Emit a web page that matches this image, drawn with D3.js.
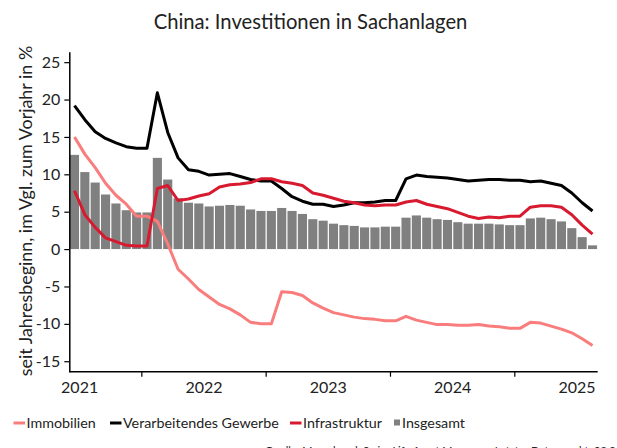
<!DOCTYPE html>
<html><head><meta charset="utf-8">
<script src="https://cdn.jsdelivr.net/npm/d3@7"></script>
<style>
html,body{margin:0;padding:0;background:#fff;}
svg{display:block;}
text{font-family:Lato,"Open Sans",sans-serif;fill:#222;}
</style></head>
<body>
<svg id="chart" width="617" height="448"></svg>
<script>
const months = [
 "2021-06","2021-07","2021-08","2021-09","2021-10","2021-11","2021-12",
 "2022-01","2022-02","2022-03","2022-04","2022-05","2022-06","2022-07","2022-08","2022-09","2022-10","2022-11","2022-12",
 "2023-01","2023-02","2023-03","2023-04","2023-05","2023-06","2023-07","2023-08","2023-09","2023-10","2023-11","2023-12",
 "2024-01","2024-02","2024-03","2024-04","2024-05","2024-06","2024-07","2024-08","2024-09","2024-10","2024-11","2024-12",
 "2025-01","2025-02","2025-03","2025-04","2025-05","2025-06","2025-07","2025-08"];
const insgesamt = [
 12.6,10.3,8.9,7.3,6.1,5.2,4.9,
 4.9,12.2,9.3,6.8,6.2,6.1,5.7,5.8,5.9,5.8,5.3,5.1,
 5.1,5.5,5.1,4.7,4.0,3.8,3.4,3.2,3.1,2.9,2.9,3.0,
 3.0,4.2,4.5,4.2,4.0,3.9,3.6,3.4,3.4,3.4,3.3,3.2,
 3.2,4.1,4.2,4.0,3.7,2.8,1.6,0.5];
const immobilien = [
 15.0,12.7,10.9,8.8,7.2,6.0,4.4,
 4.4,3.7,0.7,-2.7,-4.0,-5.4,-6.4,-7.4,-8.0,-8.8,-9.8,-10.0,
 -10.0,-5.7,-5.8,-6.2,-7.2,-7.9,-8.5,-8.8,-9.1,-9.3,-9.4,-9.6,
 -9.6,-9.0,-9.5,-9.8,-10.1,-10.1,-10.2,-10.2,-10.1,-10.3,-10.4,-10.6,
 -10.6,-9.8,-9.9,-10.3,-10.7,-11.2,-12.0,-12.9];
const verarbeitend = [
 19.2,17.3,15.7,14.8,14.2,13.7,13.5,
 13.5,20.9,15.6,12.2,10.6,10.4,9.9,10.0,10.1,9.7,9.3,9.1,
 9.1,8.1,7.0,6.4,6.0,6.0,5.7,5.9,6.2,6.2,6.3,6.5,
 6.5,9.4,9.9,9.7,9.6,9.5,9.3,9.1,9.2,9.3,9.3,9.2,
 9.2,9.0,9.1,8.8,8.5,7.5,6.2,5.1];
const infrastruktur = [
 7.8,4.6,2.9,1.5,1.0,0.5,0.4,
 0.4,8.1,8.5,6.5,6.7,7.1,7.4,8.3,8.6,8.7,8.9,9.4,
 9.4,9.0,8.8,8.5,7.5,7.2,6.8,6.4,6.2,5.9,5.8,5.9,
 5.9,6.3,6.5,6.0,5.7,5.4,4.9,4.4,4.1,4.3,4.2,4.4,
 4.4,5.6,5.8,5.8,5.6,4.6,3.2,2.0];
const yTicks = [-15,-10,-5,0,5,10,15,20,25];
const yearTicks = ["2022-01","2023-01","2024-01","2025-01"];
const yearLabels = ["2021","2022","2023","2024","2025"];
const yearLabelPos = ["2021-07","2022-07","2023-07","2024-07","2025-07"];
const seriesNames = ["Immobilien","Verarbeitendes Gewerbe","Infrastruktur","Insgesamt"];
const colors = {Immobilien:"#fa7d7d","Verarbeitendes Gewerbe":"#000000",Infrastruktur:"#d71a30",Insgesamt:"#808080"};

(function(){
const svg = d3.select("#chart");
const pL = 69.3, pR = 597.7, pT = 51.7, pB = 371.7;

const fit = (sel, target, base) => {
  sel.attr("font-size", base);
  const w = sel.node().getComputedTextLength();
  if (w > 0) sel.attr("font-size", base * target / w);
  return +sel.attr("font-size");
};

const x = d3.scaleBand().domain(months).range([pL, pR]).paddingInner(0.12).paddingOuter(0.06);
const y = d3.scaleLinear().domain([-16.4, 26.4]).range([pB, pT]);
const boundary = m => x(m) - x.step() * x.paddingInner() / 2;

// bars
svg.append("g").selectAll("rect").data(months).join("rect")
  .attr("x", m => x(m))
  .attr("width", x.bandwidth())
  .attr("y", (m,i) => y(Math.max(0, insgesamt[i])))
  .attr("height", (m,i) => Math.abs(y(insgesamt[i]) - y(0)))
  .attr("fill", colors.Insgesamt);

// lines
const line = d3.line().x((d,i) => x(months[i]) + x.bandwidth()/2).y(d => y(d)).curve(d3.curveLinear);
[["Immobilien", immobilien],["Verarbeitendes Gewerbe", verarbeitend],["Infrastruktur", infrastruktur]].forEach(([n, vals]) => {
  svg.append("path").datum(vals).attr("d", line)
    .attr("fill","none").attr("stroke", colors[n]).attr("stroke-width", 3)
    .attr("stroke-linejoin","round").attr("stroke-linecap","butt");
});

// y axis
const yAxis = svg.append("g").attr("transform", `translate(${pL},0)`)
  .call(d3.axisLeft(y).tickValues(yTicks).tickFormat(d => String(d)).tickSize(5).tickPadding(4).tickSizeOuter(0));
yAxis.select(".domain").attr("stroke","#000").attr("stroke-width",1.5);
yAxis.selectAll(".tick line").attr("stroke","#000").attr("stroke-width",1.2);
yAxis.selectAll(".tick text").attr("font-size",16).attr("font-family",'Lato,sans-serif').attr("fill","#222");

// x axis
const xg = svg.append("g");
xg.append("line").attr("x1", pL).attr("x2", pR).attr("y1", pB).attr("y2", pB)
  .attr("stroke","#000").attr("stroke-width",1.5);
xg.selectAll("line.t").data(yearTicks).join("line").attr("class","t")
  .attr("x1", m => boundary(m)).attr("x2", m => boundary(m))
  .attr("y1", pB).attr("y2", pB + 5).attr("stroke","#000").attr("stroke-width",1.2);
xg.selectAll("text").data(yearLabels).join("text")
  .attr("x", (l,i) => boundary(yearLabelPos[i])).attr("y", 393)
  .attr("text-anchor","middle").attr("font-size",16).text(l => l);

// y label
const yl = svg.append("text").attr("transform", "translate(32,211) rotate(-90)")
  .attr("text-anchor","middle").text("seit Jahresbeginn, im Vgl. zum Vorjahr in %");
fit(yl, 331, 15);

// title
const tt = svg.append("text").attr("x", 310.5).attr("y", 29).attr("text-anchor","middle")
  .text("China: Investitionen in Sachanlagen");
fit(tt, 314, 17);

// legend
const legX = [13.5, 110, 290, 394];
const lg = svg.append("g");
const probe = lg.append("text").text("Verarbeitendes Gewerbe");
const lfs = fit(probe, 156, 15);
probe.remove();
seriesNames.forEach((n, i) => {
  if (n === "Insgesamt") {
    lg.append("rect").attr("x", legX[i]).attr("y", 419.5).attr("width", 6).attr("height", 6).attr("fill", colors[n]);
    lg.append("text").attr("x", legX[i] + 8).attr("y", 428).attr("font-size",lfs).text(n);
  } else {
    lg.append("line").attr("x1", legX[i]).attr("x2", legX[i] + 11.5).attr("y1", 423).attr("y2", 423)
      .attr("stroke", colors[n]).attr("stroke-width", 3);
    lg.append("text").attr("x", legX[i] + 13).attr("y", 428).attr("font-size",lfs).text(n);
  }
});

// source
svg.append("text").attr("x", 265).attr("y", 455).attr("font-size",11).attr("fill","#333")
  .text("Quelle: Macrobond, Swiss Life Asset Managers, Letzter Datenpunkt: 08.2025");
})();
</script>
</body></html>
